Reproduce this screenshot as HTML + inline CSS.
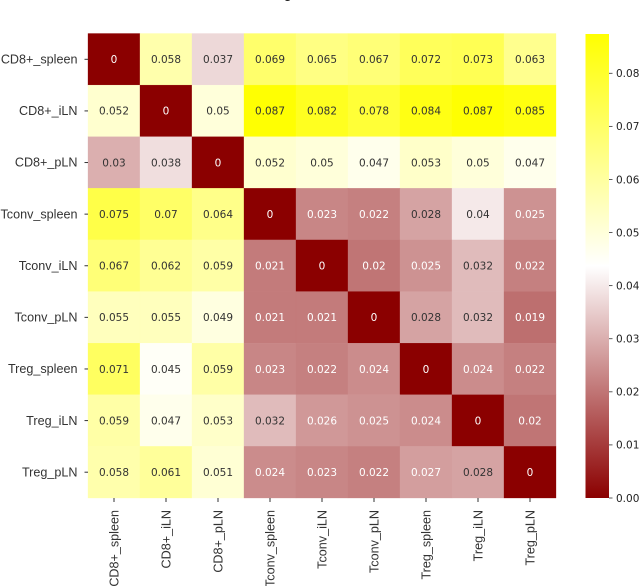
<!DOCTYPE html>
<html>
<head>
<meta charset="utf-8">
<style>
html,body{margin:0;padding:0;background:#fff;width:640px;height:586px;overflow:hidden}
svg{display:block}
</style>
</head>
<body>
<svg id="chart" xmlns="http://www.w3.org/2000/svg" width="640" height="586" viewBox="0 0 640 586">
<defs>
<linearGradient id="cbar-gradient" x1="0" y1="1" x2="0" y2="0"></linearGradient>
</defs>
<text x="288" y="-2" text-anchor="middle" font-family="'DejaVu Sans',sans-serif" font-size="13" fill="#222">g</text>
<g id="cells"></g>
<g id="annotations"></g>
<g id="y-axis"></g>
<g id="x-axis"></g>
<rect id="cbar" fill="url(#cbar-gradient)"></rect>
<g id="cbar-axis"></g>
</svg>
<script>
const categories = ["CD8+_spleen","CD8+_iLN","CD8+_pLN","Tconv_spleen","Tconv_iLN","Tconv_pLN","Treg_spleen","Treg_iLN","Treg_pLN"];
const rowCD8Spleen = [0,0.058,0.037,0.069,0.065,0.067,0.072,0.073,0.063];
const rowCD8iLN = [0.052,0,0.05,0.087,0.082,0.078,0.084,0.087,0.085];
const rowCD8pLN = [0.03,0.038,0,0.052,0.05,0.047,0.053,0.05,0.047];
const rowTconvSpleen = [0.075,0.07,0.064,0,0.023,0.022,0.028,0.04,0.025];
const rowTconviLN = [0.067,0.062,0.059,0.021,0,0.02,0.025,0.032,0.022];
const rowTconvpLN = [0.055,0.055,0.049,0.021,0.021,0,0.028,0.032,0.019];
const rowTregSpleen = [0.071,0.045,0.059,0.023,0.022,0.024,0,0.024,0.022];
const rowTregiLN = [0.059,0.047,0.053,0.032,0.026,0.025,0.024,0,0.02];
const rowTregpLN = [0.058,0.061,0.051,0.024,0.023,0.022,0.027,0.028,0];
const matrix = [rowCD8Spleen,rowCD8iLN,rowCD8pLN,rowTconvSpleen,rowTconviLN,rowTconvpLN,rowTregSpleen,rowTregiLN,rowTregpLN];
const colorbarTicks = [0,0.01,0.02,0.03,0.04,0.05,0.06,0.07,0.08];
const colorMin = 0;
const colorMax = 0.0874;

const NS = 'http://www.w3.org/2000/svg';
const plot = {left:88, right:556, top:33.5, bottom:498};
const bar = {left:585.5, right:609, top:34, bottom:498};
const cellW = (plot.right - plot.left) / categories.length;
const cellH = (plot.bottom - plot.top) / categories.length;
const xBand = i => plot.left + i * cellW;
const yBand = i => plot.top + i * cellH;
const cbarY = v => bar.bottom - (v - colorMin) / (colorMax - colorMin) * (bar.bottom - bar.top);

function color(v){
  const t = Math.max(0, Math.min(1, (v - colorMin) / (colorMax - colorMin)));
  let r, g, b;
  if (t < 0.5) {
    const k = t / 0.5;
    r = 139 + (255 - 139) * k;
    g = 255 * k;
    b = 255 * k;
  } else {
    const k = (t - 0.5) / 0.5;
    r = 255;
    g = 255;
    b = 255 * (1 - k);
  }
  return 'rgb(' + Math.round(r) + ',' + Math.round(g) + ',' + Math.round(b) + ')';
}
function make(tag, attrs, parent, content){
  const el = document.createElementNS(NS, tag);
  for (const k in attrs) el.setAttribute(k, attrs[k]);
  if (content !== undefined) el.textContent = content;
  parent.appendChild(el);
  return el;
}
const cellsG = document.getElementById('cells');
const annG = document.getElementById('annotations');
const yG = document.getElementById('y-axis');
const xG = document.getElementById('x-axis');
const cbarAxis = document.getElementById('cbar-axis');

matrix.forEach((row, r) => {
  row.forEach((v, c) => {
    const rect = make('rect', {x:xBand(c), y:yBand(r), width:cellW, height:cellH, fill:color(v), stroke:color(v), 'stroke-width':0.3}, cellsG);
    
    
    const label = make('text', {x:xBand(c) + cellW / 2, y:yBand(r) + cellH / 2 + 3.8, 'text-anchor':'middle', 'font-family':"'DejaVu Sans',sans-serif", 'font-size':10.5, fill:v >= 0.028 ? '#333333' : '#ffffff'}, annG, String(v));
    
    
  });
});

categories.forEach((name, i) => {
  const yc = yBand(i) + cellH / 2;
  const yTick = make('line', {x1:plot.left - 3.5, x2:plot.left, y1:yc, y2:yc, stroke:'#333333', 'stroke-width':1}, yG);
  
  
  const yLabel = make('text', {x:77.5, y:yc + 4.2, 'text-anchor':'end', 'font-family':"'Liberation Sans',sans-serif", 'font-size':12.6, fill:'#333333'}, yG, name);
  
  

  const xc = xBand(i) + cellW / 2;
  const xTick = make('line', {x1:xc, x2:xc, y1:plot.bottom, y2:plot.bottom + 4, stroke:'#333333', 'stroke-width':1}, xG);
  
  
  const lx = xc + 4.4;
  const ly = 510;
  const xLabel = make('text', {x:lx, y:ly, 'text-anchor':'end', transform:'rotate(-90 ' + lx + ' ' + ly + ')', 'font-family':"'Liberation Sans',sans-serif", 'font-size':12.6, fill:'#333333'}, xG, name);
  
  
});

const grad = document.getElementById('cbar-gradient');
[colorMin, (colorMin + colorMax) / 2, colorMax].forEach((v, i) => {
  make('stop', {offset:(i * 50) + '%', 'stop-color':color(v)}, grad);
});
const cbarRect = document.getElementById('cbar');
cbarRect.setAttribute('x', bar.left);
cbarRect.setAttribute('y', bar.top);
cbarRect.setAttribute('width', bar.right - bar.left);
cbarRect.setAttribute('height', bar.bottom - bar.top);

colorbarTicks.forEach(v => {
  const y = cbarY(v);
  const tick = make('line', {x1:bar.right, x2:bar.right + 3.5, y1:y, y2:y, stroke:'#333333', 'stroke-width':0.8}, cbarAxis);
  
  
  const label = make('text', {x:616, y:y + 3.8, 'font-family':"'DejaVu Sans',sans-serif", 'font-size':10.5, fill:'#222222'}, cbarAxis, v.toFixed(2));
  
  
});
</script>
</body>
</html>
